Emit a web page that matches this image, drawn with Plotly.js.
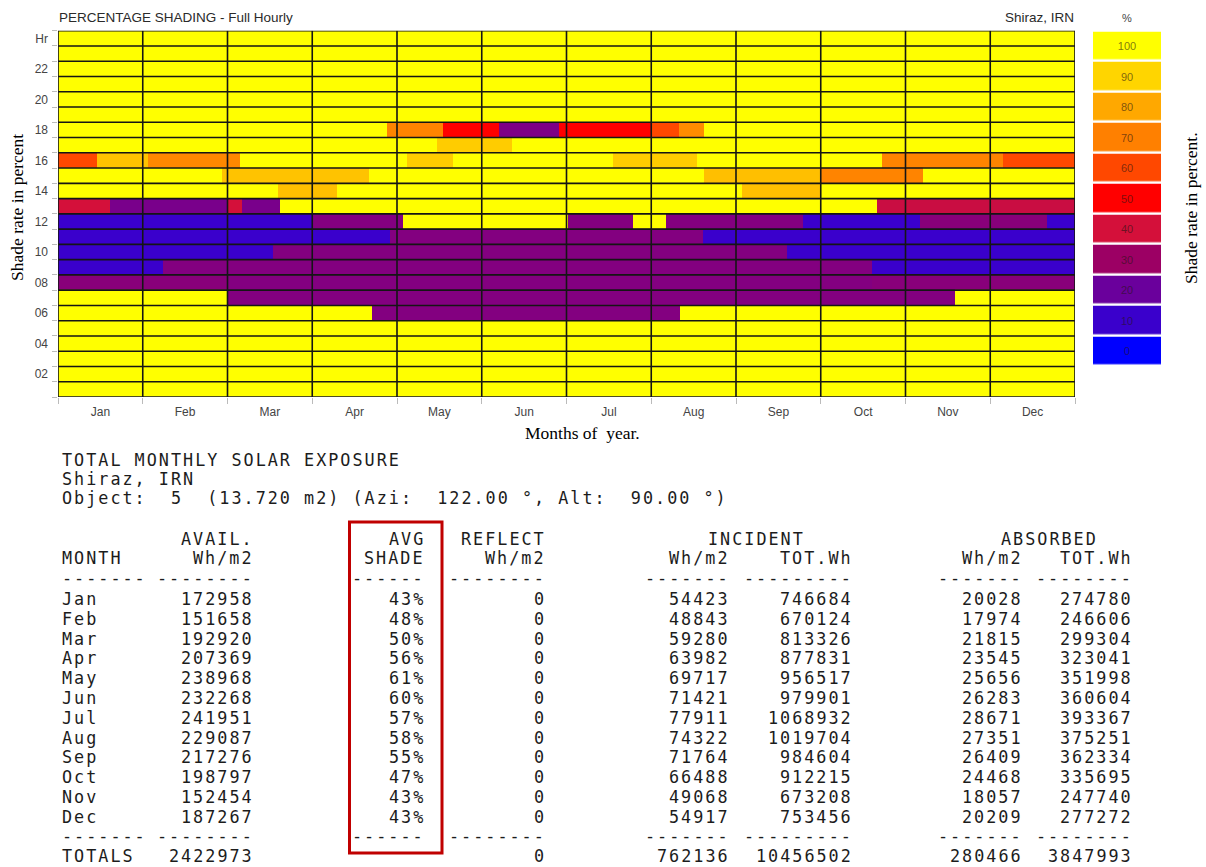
<!DOCTYPE html>
<html>
<head>
<meta charset="utf-8">
<script src="https://cdn.plot.ly/plotly-3.0.1.min.js"></script>
<style>
html,body{margin:0;padding:0;background:#fff;}
#chart{width:1206px;height:867px;}
text.annotation-text[style*="Mono"]{letter-spacing:2px;}
</style>
</head>
<body>
<div id="chart"></div>
<script>
// ---------------- DATA ----------------
const monthLabels = ['Jan','Feb','Mar','Apr','May','Jun','Jul','Aug','Sep','Oct','Nov','Dec'];
const hourTickVals = [24,22,20,18,16,14,12,10,8,6,4,2];
const hourTickText = ['Hr','22','20','18','16','14','12','10','08','06','04','02'];
// Shade % per hour row: [value, untilMonth, value, untilMonth, ..., value] (months measured 0..12 from 1 Jan)
const shadeH01 = [100];
const shadeH02 = [100];
const shadeH03 = [100];
const shadeH04 = [100];
const shadeH05 = [100];
const shadeH06 = [100, 3.70, 25, 7.34, 100];
const shadeH07 = [100, 2.00, 25, 10.58, 100];
const shadeH08 = [26, 2.00, 25, 9.60, 26];
const shadeH09 = [10, 1.24, 25, 9.60, 10];
const shadeH10 = [10, 2.54, 25, 8.60, 10];
const shadeH11 = [10, 3.92, 25, 7.61, 10];
const shadeH12 = [10, 3.01, 25, 4.07, 100, 6.02, 25, 6.78, 100, 7.17, 25, 8.79, 10, 10.17, 26, 11.67, 10];
const shadeH13 = [40, 0.61, 23, 2.00, 40, 2.17, 23, 2.62, 100, 9.66, 38];
const shadeH14 = [100, 2.60, 85, 3.29, 100, 8.07, 85, 9.00, 100];
const shadeH15 = [100, 1.94, 86, 3.67, 100, 7.62, 85, 9.00, 71, 10.21, 100];
const shadeH16 = [60, 0.46, 86, 1.06, 72, 2.15, 100, 4.12, 88, 4.66, 100, 6.55, 88, 7.54, 100, 9.72, 71, 11.15, 60];
const shadeH17 = [100, 4.47, 88, 5.36, 100];
const shadeH18 = [100, 3.88, 71, 4.54, 50, 5.20, 24, 5.91, 50, 7.00, 60, 7.33, 73, 7.62, 100];
const shadeH19 = [100];
const shadeH20 = [100];
const shadeH21 = [100];
const shadeH22 = [100];
const shadeH23 = [100];
const shadeH24 = [100];
const hours = [1,2,3,4,5,6,7,8,9,10,11,12,13,14,15,16,17,18,19,20,21,22,23,24];
const hourRows = [shadeH01,shadeH02,shadeH03,shadeH04,shadeH05,shadeH06,shadeH07,shadeH08,shadeH09,shadeH10,shadeH11,shadeH12,
                  shadeH13,shadeH14,shadeH15,shadeH16,shadeH17,shadeH18,shadeH19,shadeH20,shadeH21,shadeH22,shadeH23,shadeH24];

const legendValues = [0,10,20,30,40,50,60,70,80,90,100];
const legendColors = ['#0000FF','#3A00CC','#6A009C','#9C0064','#D4103A','#FF0000','#FF4800','#FF8000','#FFA800','#FFD500','#FFFF00'];

// Table
const tableMonths = ['Jan','Feb','Mar','Apr','May','Jun','Jul','Aug','Sep','Oct','Nov','Dec'];
const availWh = [172958,151658,192920,207369,238968,232268,241951,229087,217276,198797,152454,187267];
const avgShade = [43,48,50,56,61,60,57,58,55,47,43,43];
const reflectWh = [0,0,0,0,0,0,0,0,0,0,0,0];
const incidentWh = [54423,48843,59280,63982,69717,71421,77911,74322,71764,66488,49068,54917];
const incidentTot = [746684,670124,813326,877831,956517,979901,1068932,1019704,984604,912215,673208,753456];
const absorbedWh = [20028,17974,21815,23545,25656,26283,28671,27351,26409,24468,18057,20209];
const absorbedTot = [274780,246606,299304,323041,351998,360604,393367,375251,362334,335695,247740,277272];
const totalsRow = {avail:2422973, reflect:0, incWh:762136, incTot:10456502, absWh:280466, absTot:3847993};

// ---------------- BUILD ----------------
const W = 1206, H = 867;
const px = x => x / W;
const py = y => 1 - y / H;

function parseRow(r){
  const segs = []; let start = 0;
  for (let i = 0; i < r.length; i += 2){
    const end = (i + 1 < r.length) ? r[i+1] : 12;
    segs.push([start, end, r[i]]); start = end;
  }
  return segs;
}
const parsed = hourRows.map(parseRow);
const edgeSet = new Set([0,12]);
parsed.forEach(s => s.forEach(g => { edgeSet.add(g[0]); edgeSet.add(g[1]); }));
const edges = Array.from(edgeSet).sort((a,b)=>a-b);
const zMain = parsed.map(segs => {
  const row = [];
  for (let c = 0; c < edges.length - 1; c++){
    const mid = (edges[c] + edges[c+1]) / 2;
    const g = segs.find(s => mid >= s[0] && mid < s[1]);
    row.push(g ? g[2] : 100);
  }
  return row;
});

const colorscale = legendValues.map((v,i)=>[v/100, legendColors[i]]);

const mainTrace = {
  type:'heatmap', x: edges, y: hours, z: zMain, zmin:0, zmax:100,
  colorscale: colorscale, showscale:false, hoverinfo:'skip', xaxis:'x', yaxis:'y'
};
const legendTrace = {
  type:'heatmap', x:[0], y: legendValues.map((v,i)=>i), z: legendValues.map(v=>[v]),
  zmin:0, zmax:100, colorscale: colorscale, showscale:false, ygap:2.5, hoverinfo:'skip',
  texttemplate:'%{z}', textfont:{family:'Liberation Sans, Arial, sans-serif', size:11, color:'rgba(40,20,20,0.6)'},
  xaxis:'x2', yaxis:'y2'
};

const shapes = [];
for (let k = 0; k <= 24; k++){
  shapes.push({type:'line', xref:'x', yref:'y', x0:0, x1:12, y0:k+0.5, y1:k+0.5, line:{color:'#151515', width:1.6}, layer:'above'});
}
for (let m = 0; m <= 12; m++){
  shapes.push({type:'line', xref:'x', yref:'y', x0:m, x1:m, y0:0.5, y1:24.5, line:{color:'#151515', width:1.6}, layer:'above'});
}
shapes.push({type:'rect', xref:'paper', yref:'paper', x0:px(349.5), x1:px(442), y0:py(853), y1:py(522),
             line:{color:'#C00000', width:3}, fillcolor:'rgba(0,0,0,0)'});

const annotations = [];
const sans = 'Liberation Sans, Arial, sans-serif';
const serif = 'Liberation Serif, Times New Roman, serif';
const mono = 'DejaVu Sans Mono, monospace';
function ann(text, x, y, anchor, font, extra){
  annotations.push(Object.assign({text:text, xref:'paper', yref:'paper', x:px(x), y:py(y), xanchor:anchor, yanchor:'middle',
    showarrow:false, font:font}, extra||{}));
}
const nb = s => s.replace(/ /g, '\u00a0');

ann('PERCENTAGE SHADING - Full Hourly', 57, 18, 'left', {family:sans, size:13.5, color:'#2a2a2a'});
ann('Shiraz, IRN', 1076, 18, 'right', {family:sans, size:13.5, color:'#2a2a2a'});
ann('%', 1127, 18, 'center', {family:sans, size:11, color:'#444'});
ann(nb('Months of  year.'), 582, 433, 'center', {family:serif, size:17.5, color:'#000'});
ann('Shade rate in percent', 17, 208, 'center', {family:serif, size:17.5, color:'#000'}, {textangle:-90});
ann('Shade rate in percent.', 1191, 208, 'center', {family:serif, size:17.5, color:'#000'}, {textangle:-90});

const tf = {family:mono, size:16.8, color:'#1c1c1c'};
ann('TOTAL MONTHLY SOLAR EXPOSURE', 60, 460, 'left', tf);
ann('Shiraz, IRN', 60, 479, 'left', tf);
ann(nb('Object:  5  (13.720 m2) (Azi:  122.00 °, Alt:  90.00 °)'), 60, 498, 'left', tf);

const R = 2; // compensate trailing letter spacing
const cAvail = 254+R, cShade = 425+R, cRefl = 546+R, cIncW = 730+R, cIncT = 853+R, cAbsW = 1023+R, cAbsT = 1133+R;
ann('AVAIL.', cAvail, 539, 'right', tf);
ann('AVG', cShade, 539, 'right', tf);
ann('REFLECT', cRefl, 539, 'right', tf);
ann('INCIDENT', 756, 539, 'center', tf);
ann('ABSORBED', 1049, 539, 'center', tf);
ann('MONTH', 60, 558, 'left', tf);
ann('Wh/m2', cAvail, 558, 'right', tf);
ann('SHADE', cShade, 558, 'right', tf);
ann('Wh/m2', cRefl, 558, 'right', tf);
ann('Wh/m2', cIncW, 558, 'right', tf);
ann('TOT.Wh', cIncT, 558, 'right', tf);
ann('Wh/m2', cAbsW, 558, 'right', tf);
ann('TOT.Wh', cAbsT, 558, 'right', tf);

function dashRow(y, withShade){
  ann('-------', 60, y, 'left', tf);
  ann('--------', cAvail, y, 'right', tf);
  if (withShade) ann('------', cShade, y, 'right', tf);
  ann('--------', cRefl, y, 'right', tf);
  ann('-------', cIncW, y, 'right', tf);
  ann('---------', cIncT, y, 'right', tf);
  ann('-------', cAbsW, y, 'right', tf);
  ann('--------', cAbsT, y, 'right', tf);
}
dashRow(578, true);
tableMonths.forEach((m, i) => {
  const y = 599 + i * 19.8;
  ann(m, 60, y, 'left', tf);
  ann(String(availWh[i]), cAvail, y, 'right', tf);
  ann(avgShade[i] + '%', cShade, y, 'right', tf);
  ann(String(reflectWh[i]), cRefl, y, 'right', tf);
  ann(String(incidentWh[i]), cIncW, y, 'right', tf);
  ann(String(incidentTot[i]), cIncT, y, 'right', tf);
  ann(String(absorbedWh[i]), cAbsW, y, 'right', tf);
  ann(String(absorbedTot[i]), cAbsT, y, 'right', tf);
});
dashRow(836, true);
const yT = 856;
ann('TOTALS', 60, yT, 'left', tf);
ann(String(totalsRow.avail), cAvail, yT, 'right', tf);
ann(String(totalsRow.reflect), cRefl, yT, 'right', tf);
ann(String(totalsRow.incWh), cIncW, yT, 'right', tf);
ann(String(totalsRow.incTot), cIncT, yT, 'right', tf);
ann(String(totalsRow.absWh), cAbsW, yT, 'right', tf);
ann(String(totalsRow.absTot), cAbsT, yT, 'right', tf);

const layout = {
  width: W, height: H, margin:{l:0, r:0, t:0, b:0},
  paper_bgcolor:'#fff', plot_bgcolor:'#fff', showlegend:false,
  xaxis:{domain:[px(58), px(1075)], range:[0,12], anchor:'y',
    tickvals: monthLabels.map((m,i)=>i+0.5), ticktext: monthLabels, ticks:'',
    tickfont:{family:sans, size:12, color:'#444'}, ticklabelstandoff:6,
    showgrid:false, zeroline:false, showline:false, fixedrange:true,
    minor:{tick0:0, dtick:1, ticks:'outside', ticklen:6, tickcolor:'#bbbbbb', tickwidth:1, showgrid:false}},
  yaxis:{domain:[py(397), py(30.7)], range:[0.5,24.5], anchor:'x',
    tickvals: hourTickVals, ticktext: hourTickText, ticks:'',
    tickfont:{family:sans, size:12, color:'#444'}, ticklabelstandoff:9,
    showgrid:false, zeroline:false, showline:false, fixedrange:true,
    minor:{tick0:0.5, dtick:1, ticks:'outside', ticklen:5, tickcolor:'#bbbbbb', tickwidth:1, showgrid:false}},
  xaxis2:{domain:[px(1093), px(1161)], range:[-0.5,0.5], anchor:'y2', visible:false, fixedrange:true},
  yaxis2:{domain:[py(366), py(30.7)], range:[-0.5,10.5], anchor:'x2', visible:false, fixedrange:true},
  shapes: shapes, annotations: annotations
};

Plotly.newPlot('chart', [mainTrace, legendTrace], layout, {displayModeBar:false, staticPlot:true});
</script>
</body>
</html>
